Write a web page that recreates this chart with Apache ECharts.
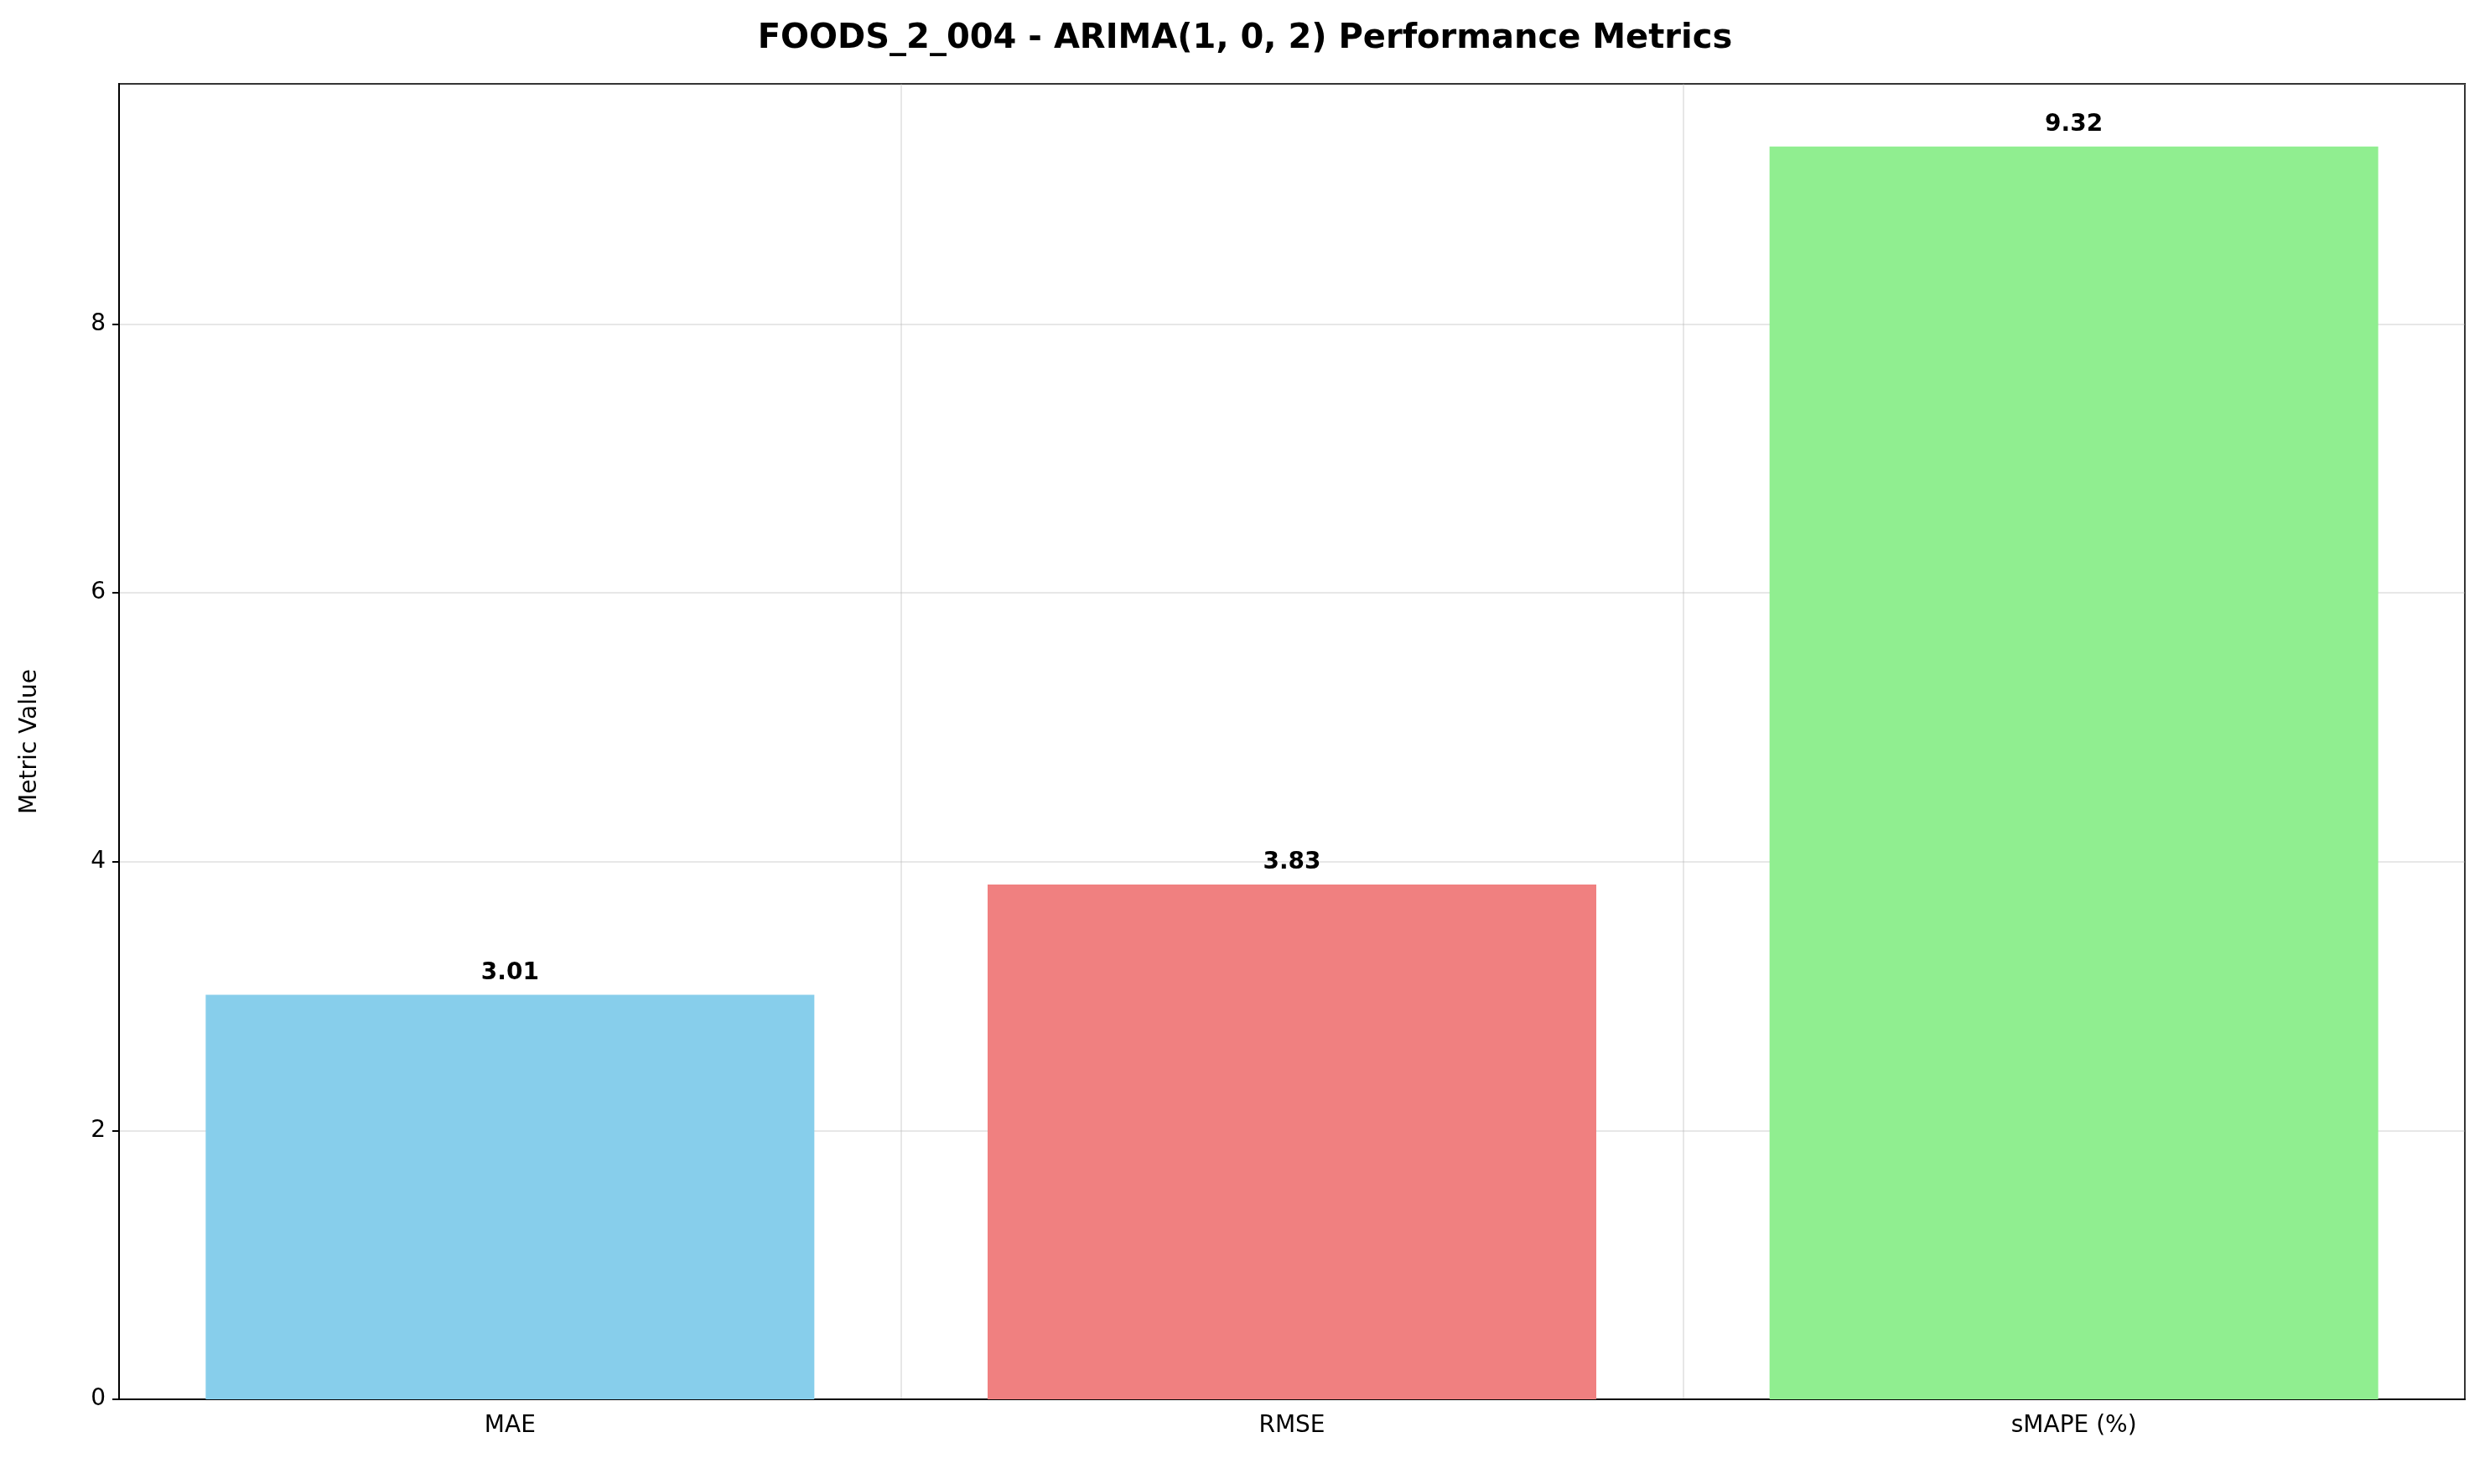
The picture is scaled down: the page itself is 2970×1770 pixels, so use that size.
<!DOCTYPE html>
<html>
<head>
<meta charset="utf-8">
<script src="https://cdn.jsdelivr.net/npm/echarts@6/dist/echarts.min.js"></script>
<style>html,body{margin:0;padding:0;background:#fff}#c{width:2970px;height:1770px}</style>
</head>
<body>
<div id="c"></div>
<script>
const categories = ['MAE', 'RMSE', 'sMAPE (%)'];
const values = [3.01, 3.83, 9.32];
const colors = ['#87CEEB', '#F08080', '#90EE90'];

const chart = echarts.init(document.getElementById('c'));
const font = 'DejaVu Sans';
chart.setOption({
    animation: false,
    textStyle: { fontFamily: font },
    title: {
        text: 'FOODS_2_004 - ARIMA(1, 0, 2) Performance Metrics',
        left: 'center', top: 22,
        textStyle: { fontSize: 40, fontWeight: 'bold', color: '#000', fontFamily: font }
    },
    grid: { left: 142, right: 30, top: 100, bottom: 101, show: true, borderColor: '#000', borderWidth: 2, backgroundColor: 'transparent' },
    xAxis: {
        type: 'category', data: categories,
        axisLine: { lineStyle: { color: '#000', width: 2 } },
        axisTick: { alignWithLabel: true, length: 8, lineStyle: { color: '#000', width: 2 } },
        axisLabel: { fontSize: 28, color: '#000', margin: 18 },
        splitLine: { show: true, lineStyle: { color: 'rgba(176,176,176,0.3)', width: 2 } }
    },
    yAxis: {
        type: 'value', min: 0, max: 9.786, interval: 2,
        name: 'Metric Value', nameLocation: 'middle', nameGap: 92, nameRotate: 90,
        nameTextStyle: { fontSize: 28, color: '#000' },
        axisLine: { show: true, lineStyle: { color: '#000', width: 2 } },
        axisTick: { show: true, length: 8, lineStyle: { color: '#000', width: 2 } },
        axisLabel: { fontSize: 28, color: '#000', margin: 16, showMaxLabel: false },
        splitLine: { show: true, lineStyle: { color: 'rgba(176,176,176,0.3)', width: 2 } }
    },
    series: [{
        type: 'bar', barWidth: 726, z: 1,
        data: values.map((v, i) => ({ value: v, itemStyle: { color: colors[i] } })),
        label: { show: true, position: 'top', distance: 12, fontSize: 28, fontWeight: 'bold', color: '#000', formatter: p => p.value.toFixed(2) }
    }]
});
</script>
</body>
</html>
